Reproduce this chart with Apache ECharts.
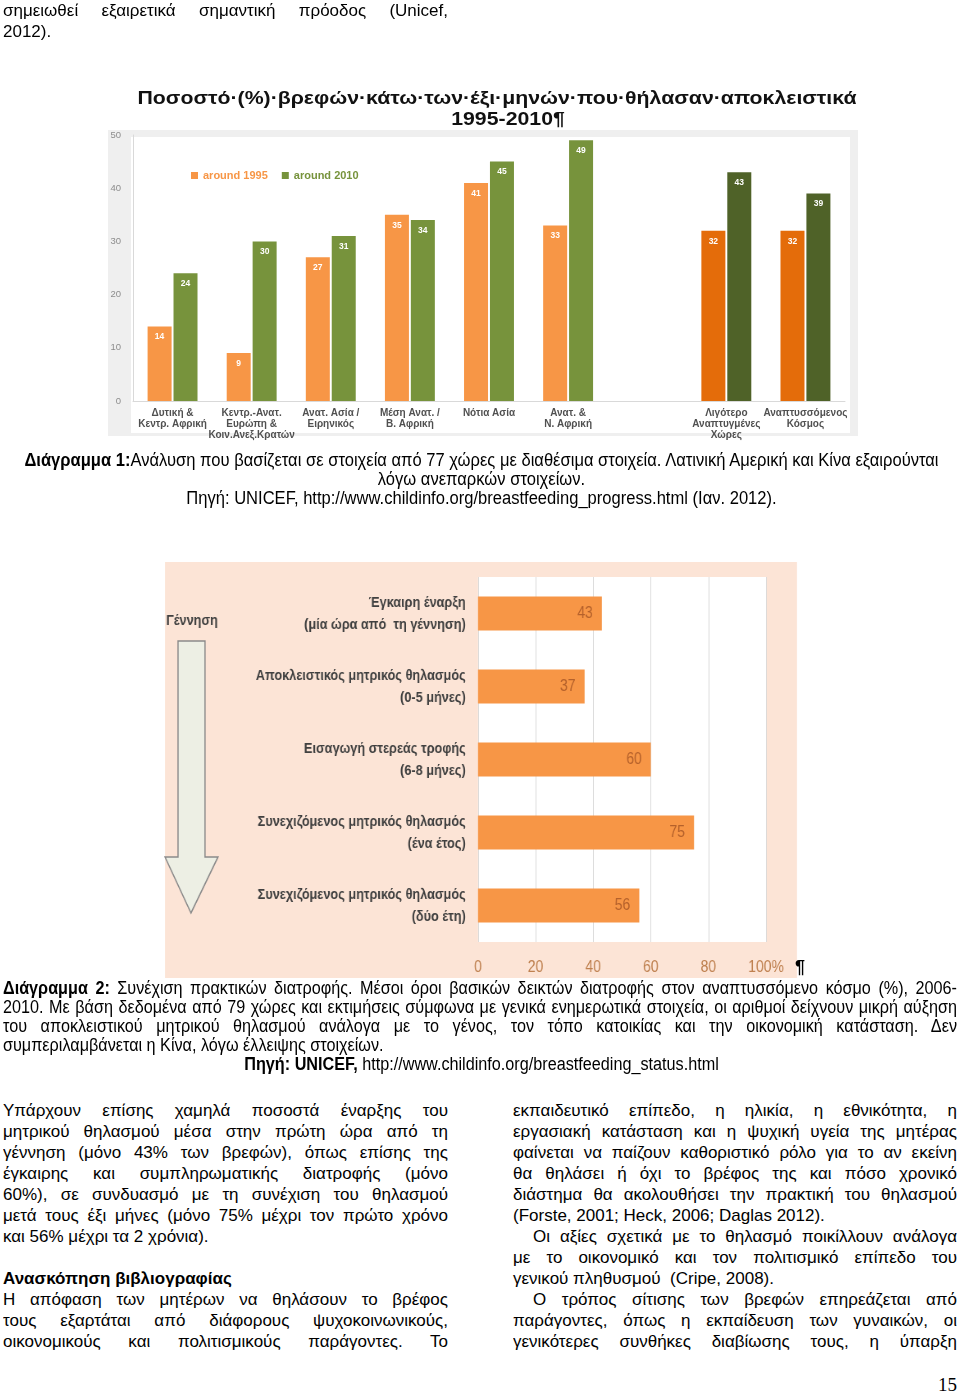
<!DOCTYPE html>
<html><head><meta charset="utf-8">
<script src="https://cdn.jsdelivr.net/npm/echarts@6/dist/echarts.min.js"></script>
<style>
html,body{margin:0;padding:0;background:#fff;}
#page{position:relative;width:960px;height:1396px;overflow:hidden;}
#chart1{position:absolute;left:0;top:0;width:960px;height:460px;}
#chart2{position:absolute;left:160px;top:550px;width:780.49px;height:440px;transform:scaleX(0.82);transform-origin:0 0;}
.t{position:absolute;font-family:"Liberation Sans",Arial,sans-serif;font-size:17px;line-height:21px;color:#000;white-space:nowrap;}
.j{text-align:justify;text-align-last:justify;white-space:normal;overflow:hidden;height:21px;}
.n{font-size:18px;line-height:19px;height:19px;transform-origin:0 0;}
.n1{transform:scaleX(0.92);width:1046.7px;left:0;text-align:center;}
.n2{transform:scaleX(0.9);width:1060px;left:3px;}
.n3{transform:scaleX(0.9);width:1070px;left:0;text-align:center;}
</style></head>
<body><div id="page">
<div id="chart1"></div>
<div id="chart2"></div>

<div class="t j" style="left:3px;top:0px;width:445px">σημειωθεί εξαιρετικά σημαντική πρόοδος (Unicef,</div>
<div class="t" style="left:3px;top:21px">2012).</div>

<div class="t n n1" style="top:451px"><b>Διάγραμμα 1:</b>Ανάλυση που βασίζεται σε στοιχεία από 77 χώρες με διαθέσιμα στοιχεία. Λατινική Αμερική και Κίνα εξαιρούνται</div>
<div class="t n n1" style="top:470px">λόγω ανεπαρκών στοιχείων.</div>
<div class="t n n1" style="top:489px">Πηγή: UNICEF, http://www.childinfo.org/breastfeeding_progress.html (Ιαν. 2012).</div>

<div class="t" style="left:795px;top:957px;font-size:18px;font-weight:bold">¶</div>

<div class="t n n2 j" style="top:979px"><b>Διάγραμμα 2:</b> Συνέχιση πρακτικών διατροφής. Μέσοι όροι βασικών δεικτών διατροφής στον αναπτυσσόμενο κόσμο (%), 2006-</div>
<div class="t n n2 j" style="top:998px">2010. Με βάση δεδομένα από 79 χώρες και εκτιμήσεις σύμφωνα με γενικά ενημερωτικά στοιχεία, οι αριθμοί δείχνουν μικρή αύξηση</div>
<div class="t n n2 j" style="top:1017px">του αποκλειστικού μητρικού θηλασμού ανάλογα με το γένος, τον τόπο κατοικίας και την οικονομική κατάσταση. Δεν</div>
<div class="t n n2" style="top:1036px;">συμπεριλαμβάνεται η Κίνα, λόγω έλλειψης στοιχείων.</div>
<div class="t n n3" style="top:1055px"><b>Πηγή: UNICEF,</b> http://www.childinfo.org/breastfeeding_status.html</div>

<div class="t j" style="left:3px;top:1100px;width:445px">Υπάρχουν επίσης χαμηλά ποσοστά έναρξης του</div>
<div class="t j" style="left:3px;top:1121px;width:445px">μητρικού θηλασμού μέσα στην πρώτη ώρα από τη</div>
<div class="t j" style="left:3px;top:1142px;width:445px">γέννηση (μόνο 43% των βρεφών), όπως επίσης της</div>
<div class="t j" style="left:3px;top:1163px;width:445px">έγκαιρης και συμπληρωματικής διατροφής (μόνο</div>
<div class="t j" style="left:3px;top:1184px;width:445px">60%), σε συνδυασμό με τη συνέχιση του θηλασμού</div>
<div class="t j" style="left:3px;top:1205px;width:445px">μετά τους έξι μήνες (μόνο 75% μέχρι τον πρώτο χρόνο</div>
<div class="t" style="left:3px;top:1226px;">και 56% μέχρι τα 2 χρόνια).</div>
<div class="t" style="left:3px;top:1268px;font-weight:bold">Ανασκόπηση βιβλιογραφίας</div>
<div class="t j" style="left:3px;top:1289px;width:445px">Η απόφαση των μητέρων να θηλάσουν το βρέφος</div>
<div class="t j" style="left:3px;top:1310px;width:445px">τους εξαρτάται από διάφορους ψυχοκοινωνικούς,</div>
<div class="t j" style="left:3px;top:1331px;width:445px">οικονομικούς και πολιτισμικούς παράγοντες. Το</div>

<div class="t j" style="left:513px;top:1100px;width:444px">εκπαιδευτικό επίπεδο, η ηλικία, η εθνικότητα, η</div>
<div class="t j" style="left:513px;top:1121px;width:444px">εργασιακή κατάσταση και η ψυχική υγεία της μητέρας</div>
<div class="t j" style="left:513px;top:1142px;width:444px">φαίνεται να παίζουν καθοριστικό ρόλο για το αν εκείνη</div>
<div class="t j" style="left:513px;top:1163px;width:444px">θα θηλάσει ή όχι το βρέφος της και πόσο χρονικό</div>
<div class="t j" style="left:513px;top:1184px;width:444px">διάστημα θα ακολουθήσει την πρακτική του θηλασμού</div>
<div class="t" style="left:513px;top:1205px;">(Forste, 2001; Heck, 2006; Daglas 2012).</div>
<div class="t j" style="left:533px;top:1226px;width:424px">Οι αξίες σχετικά με το θηλασμό ποικίλλουν ανάλογα</div>
<div class="t j" style="left:513px;top:1247px;width:444px">με το οικονομικό και τον πολιτισμικό επίπεδο του</div>
<div class="t" style="left:513px;top:1268px;white-space:pre">γενικού πληθυσμού  (Cripe, 2008).</div>
<div class="t j" style="left:533px;top:1289px;width:424px">Ο τρόπος σίτισης των βρεφών επηρεάζεται από</div>
<div class="t j" style="left:513px;top:1310px;width:444px">παράγοντες, όπως η εκπαίδευση των γυναικών, οι</div>
<div class="t j" style="left:513px;top:1331px;width:444px">γενικότερες συνθήκες διαβίωσης τους, η ύπαρξη</div>

<div class="t" style="left:938px;top:1374px;font-family:'Liberation Serif',serif;font-size:19px">15</div>
</div>
<script>
// ---- Chart 1 data ----
const categories1 = ['Δυτική &\nΚεντρ. Αφρική','Κεντρ.-Ανατ.\nΕυρώπη &\nΚοιν.Ανεξ.Κρατών','Ανατ. Ασία /\nΕιρηνικός','Μέση Ανατ. /\nΒ. Αφρική','Νότια Ασία','Ανατ. &\nΝ. Αφρική','','Λιγότερο\nΑναπτυγμένες\nΧώρες','Αναπτυσσόμενος\nΚόσμος'];
const around1995 = [14, 9, 27, 35, 41, 33, null, 32, 32];
const around2010 = [24, 30, 31, 34, 45, 49, null, 43, 39];
const seriesNames1 = ['around 1995', 'around 2010'];
const yTicks1 = [0, 10, 20, 30, 40, 50];
const title1 = ['Ποσοστό·(%)·βρεφών·κάτω·των·έξι·μηνών·που·θήλασαν·αποκλειστικά', '1995-2010¶'];

// ---- Chart 2 data ----
const categories2 = ['Έγκαιρη έναρξη\n(μία ώρα από  τη γέννηση)','Αποκλειστικός μητρικός θηλασμός\n(0-5 μήνες)','Εισαγωγή στερεάς τροφής\n(6-8 μήνες)','Συνεχιζόμενος μητρικός θηλασμός\n(ένα έτος)','Συνεχιζόμενος μητρικός θηλασμός\n(δύο έτη)'];
const values2 = [43, 37, 60, 75, 56];
const xTicks2 = [0, 20, 40, 60, 80, 100];
const sideLabel2 = 'Γέννηση';

const FONT = 'Liberation Sans';
const LIGHT = ['#F79646', '#77933C'];
const DARK = ['#E46C0A', '#4F6228'];
const darkFrom = 7;

function styled(arr, k) {
  return arr.map((v, i) => ({ value: v, itemStyle: { color: i >= darkFrom ? DARK[k] : LIGHT[k] } }));
}

// ---------- Chart 1 ----------
const chart1 = echarts.init(document.getElementById('chart1'));
const barLabel1 = { show: true, position: 'insideTop', distance: 6, color: '#fff', fontSize: 8.5, fontWeight: 'bold', fontFamily: FONT };
const titleFont = 'bold 19px "Liberation Sans"';
chart1.setOption({
  animation: false,
  textStyle: { fontFamily: FONT },
  legend: {
    left: 186, top: 165, icon: 'rect', itemWidth: 7, itemHeight: 7, itemGap: 14,
    textStyle: { fontSize: 11, fontWeight: 'bold' },
    data: [{ name: seriesNames1[0], textStyle: { color: LIGHT[0] } }, { name: seriesNames1[1], textStyle: { color: LIGHT[1] } }]
  },
  grid: { left: 133, top: 135, width: 712, height: 266 },
  xAxis: { type: 'category', data: categories1,
    axisLine: { lineStyle: { color: '#d9d9d9' } }, axisTick: { show: false },
    axisLabel: { interval: 0, fontSize: 10, fontWeight: 'bold', color: '#505050', lineHeight: 11, margin: 7 } },
  yAxis: { type: 'value', min: yTicks1[0], max: yTicks1[yTicks1.length - 1], interval: yTicks1[1] - yTicks1[0],
    axisLine: { show: true, lineStyle: { color: '#d9d9d9' } }, splitLine: { show: false },
    axisLabel: { color: '#8c8c8c', fontSize: 9.5, margin: 12 } },
  series: [
    { type: 'bar', name: seriesNames1[0], color: LIGHT[0], data: styled(around1995, 0), barWidth: 24, barGap: '8%', label: barLabel1 },
    { type: 'bar', name: seriesNames1[1], color: LIGHT[1], data: styled(around2010, 1), barWidth: 24, barGap: '8%', label: barLabel1 }
  ],
  graphic: [
    { type: 'rect', z: -10, silent: true, shape: { x: 108, y: 130, width: 750, height: 306 }, style: { fill: '#efefef' } },
    { type: 'rect', z: -9, silent: true, shape: { x: 131, y: 137, width: 719, height: 296 }, style: { fill: '#ffffff' } },
    { type: 'text', silent: true, x: 497, y: 99, scaleX: 1.12, style: { text: title1[0], x: 0, y: 0, textAlign: 'center', textVerticalAlign: 'middle', font: titleFont, fill: '#111' } },
    { type: 'text', silent: true, x: 508, y: 120, scaleX: 1.12, style: { text: title1[1], x: 0, y: 0, textAlign: 'center', textVerticalAlign: 'middle', font: titleFont, fill: '#111' } }
  ]
});

// ---------- Chart 2 (drawn in a horizontally condensed box: narrow type) ----------
const S = 0.82, OX = 160, OY = 550;
const lx = x => (x - OX) / S, ly = y => y - OY, lw = w => w / S;
const chart2 = echarts.init(document.getElementById('chart2'));
chart2.setOption({
  animation: false,
  textStyle: { fontFamily: FONT },
  grid: { left: lx(478), top: ly(577), width: lw(288), height: 365, show: true, backgroundColor: '#fff', borderWidth: 0 },
  xAxis: { type: 'value', min: xTicks2[0], max: xTicks2[xTicks2.length - 1], interval: xTicks2[1] - xTicks2[0],
    axisLine: { show: false }, axisTick: { show: false },
    splitLine: { lineStyle: { color: '#d9d9d9' } },
    axisLabel: { formatter: v => v === 100 ? '100%' : String(v), color: '#BF8150', fontSize: 17, margin: 17 } },
  yAxis: { type: 'category', data: categories2, inverse: true,
    axisLine: { show: false }, axisTick: { show: false },
    axisLabel: { color: '#404040', fontSize: 15.5, lineHeight: 22, margin: 15, fontWeight: 'bold' } },
  series: [
    { type: 'bar', name: 'Διάγραμμα 2', data: values2, barWidth: 34, itemStyle: { color: '#F79646' },
      label: { show: true, position: 'insideRight', distance: 11, color: '#B5612B', fontSize: 17 } }
  ],
  graphic: [
    { type: 'rect', z: -10, silent: true, shape: { x: lx(165), y: ly(562), width: lw(632), height: 416 }, style: { fill: '#FCE4D6' } },
    { type: 'polygon', silent: true, shape: { points: [[178,641],[205,641],[205,857],[218,857],[191,913],[165,857],[178,857]].map(p => [lx(p[0]), ly(p[1])]) }, style: { fill: '#EDEFE4', stroke: '#8a8a8a', lineWidth: 1.5 } },
    { type: 'text', silent: true, style: { text: sideLabel2, x: lx(192), y: ly(621), textAlign: 'center', textVerticalAlign: 'middle', font: 'bold 15.5px "Liberation Sans"', fill: '#404040' } }
  ]
});
</script>
</body></html>
